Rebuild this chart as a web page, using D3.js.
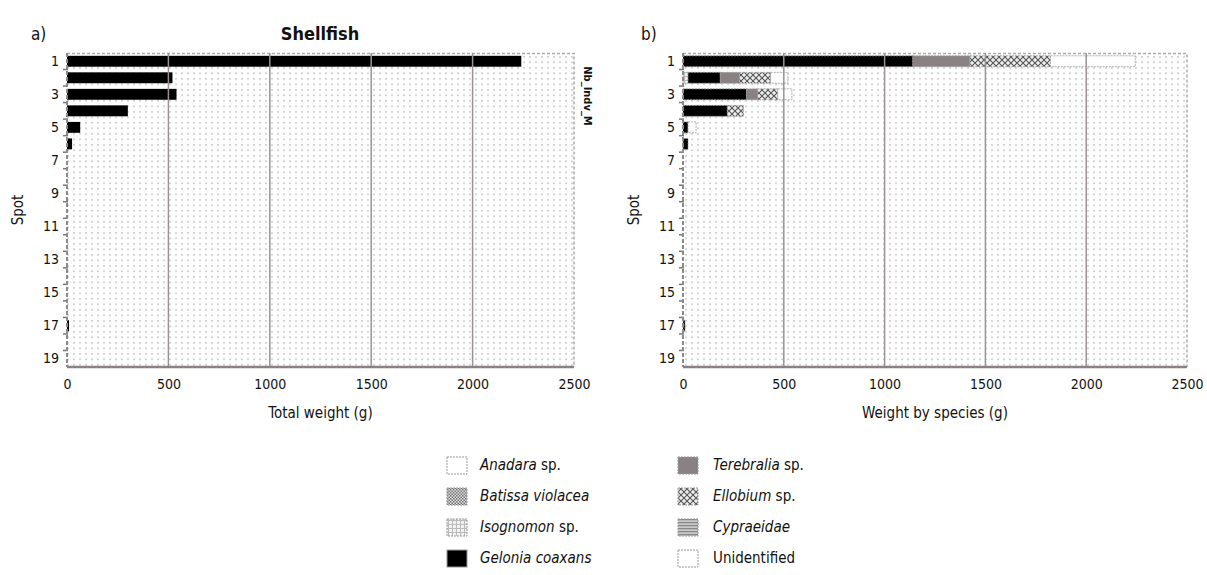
<!DOCTYPE html>
<meta charset="utf-8">
<script src="https://d3js.org/d3.v7.min.js"></script>
<style>
  body { margin: 0; background: #fff; }
  text { font-family: "DejaVu Sans", "Liberation Sans", sans-serif; font-stretch: condensed; fill: #111; }
</style>
<div id="chart"></div>
<script>

// spots (rows) and tick labels
var spots = [1,2,3,4,5,6,7,8,9,10,11,12,13,14,15,16,17,18,19];
var spotLabels = [1,3,5,7,9,11,13,15,17,19];
var weightTicks = [0, 500, 1000, 1500, 2000, 2500];

// a) total shellfish weight per spot (g)
var totalWeight = [2240, 520, 540, 300, 65, 25, 0, 0, 0, 0, 0, 0, 0, 0, 0, 0, 10, 0, 0];

// b) weight by species per spot (g)
var species = ["Anadara sp.", "Batissa violacea", "Isognomon sp.", "Gelonia coaxans",
               "Terebralia sp.", "Ellobium sp.", "Cypraeidae", "Unidentified"];
var anadara      = [0,   0,   0,   0,   0,  0, 0,0,0,0,0,0,0,0,0,0, 0, 0,0];
var batissa      = [0,   0,   0,   0,   0,  0, 0,0,0,0,0,0,0,0,0,0, 0, 0,0];
var isognomon    = [0,   25,  0,   0,   0,  0, 0,0,0,0,0,0,0,0,0,0, 0, 0,0];
var gelonia      = [1140,160, 315, 220, 25, 25,0,0,0,0,0,0,0,0,0,0, 10,0,0];
var terebralia   = [283, 95,  55,  0,   0,  0, 0,0,0,0,0,0,0,0,0,0, 0, 0,0];
var ellobium     = [400, 155, 100, 80,  0,  0, 0,0,0,0,0,0,0,0,0,0, 0, 0,0];
var cypraeidae   = [0,   0,   0,   0,   0,  0, 0,0,0,0,0,0,0,0,0,0, 0, 0,0];
var unidentified = [420, 85,  70,  0,   40, 0, 0,0,0,0,0,0,0,0,0,0, 0, 0,0];
var seriesArrays = [anadara, batissa, isognomon, gelonia, terebralia, ellobium, cypraeidae, unidentified];

var W = 1207, H = 575;
var svg = d3.select("#chart").append("svg")
    .attr("width", W).attr("height", H);

// ---- patterns
var defs = svg.append("defs");

var bg = defs.append("pattern").attr("id", "bgdots")
    .attr("patternUnits", "userSpaceOnUse").attr("width", 6).attr("height", 5.5);
bg.append("rect").attr("width", 6).attr("height", 5.5).attr("fill", "#fff");
bg.append("rect").attr("x", 1).attr("y", 1).attr("width", 2).attr("height", 1.6).attr("fill", "#cfcfcf");

var p = defs.append("pattern").attr("id", "p-batissa")
    .attr("patternUnits", "userSpaceOnUse").attr("width", 3).attr("height", 3);
p.append("rect").attr("width", 3).attr("height", 3).attr("fill", "#ddd");
p.append("rect").attr("width", 1.5).attr("height", 1.5).attr("fill", "#777");
p.append("rect").attr("x", 1.5).attr("y", 1.5).attr("width", 1.5).attr("height", 1.5).attr("fill", "#777");

p = defs.append("pattern").attr("id", "p-isognomon")
    .attr("patternUnits", "userSpaceOnUse").attr("width", 4).attr("height", 4);
p.append("rect").attr("width", 4).attr("height", 4).attr("fill", "#f2f2f2");
p.append("path").attr("d", "M0,0.5H4M0.5,0V4").attr("stroke", "#bbb").attr("stroke-width", 1);

p = defs.append("pattern").attr("id", "p-ellobium")
    .attr("patternUnits", "userSpaceOnUse").attr("width", 6).attr("height", 6);
p.append("rect").attr("width", 6).attr("height", 6).attr("fill", "#eee");
p.append("path").attr("d", "M0,0L6,6M6,0L0,6").attr("stroke", "#555").attr("stroke-width", 1.1);

p = defs.append("pattern").attr("id", "p-cypraeidae")
    .attr("patternUnits", "userSpaceOnUse").attr("width", 3).attr("height", 3);
p.append("rect").attr("width", 3).attr("height", 3).attr("fill", "#c8c8c8");
p.append("rect").attr("width", 3).attr("height", 1.2).attr("fill", "#888");

var fills = ["#ffffff", "url(#p-batissa)", "url(#p-isognomon)", "#000000",
             "#8a8282", "url(#p-ellobium)", "url(#p-cypraeidae)", "#ffffff"];

// ---- one panel
function panel(x0, x1, letter, xTitle) {
  var x = d3.scaleLinear().domain([0, 2500]).range([x0, x1]);
  var y = d3.scaleBand().domain(spots).range([53, 367]).paddingInner(0.34).paddingOuter(0.17);
  var g = svg.append("g");

  // plot background
  g.append("rect").attr("x", x0).attr("y", 53).attr("width", x1 - x0).attr("height", 314)
      .attr("fill", "url(#bgdots)");
  // top and right borders
  g.append("path").attr("d", "M" + x0 + ",53.5H" + x1 + "V367")
      .attr("fill", "none").attr("stroke", "#aaa").attr("stroke-width", 1.5)
      .attr("stroke-dasharray", "3,2");

  // letter
  g.append("text").attr("x", letter === "a)" ? 31 : 641).attr("y", 40)
      .style("font-size", "17px").text(letter);

  // y axis: labels at centres, ticks at row boundaries
  var yAxis = g.append("g").attr("transform", "translate(" + (x0 - 8) + ",0)")
      .call(d3.axisLeft(y).tickValues(spotLabels).tickSize(0).tickPadding(0));
  yAxis.select(".domain").remove();
  yAxis.selectAll("text").style("font-size", "14px").attr("fill", "#111");

  var bounds = spots.map(function(s) { return y(s) - y.step() * y.paddingInner() / 2; });
  g.selectAll(".ytick").data(bounds.slice(1)).enter().append("line")
      .attr("x1", x0 - 4).attr("x2", x0 + 1)
      .attr("y1", function(d) { return d; }).attr("y2", function(d) { return d; })
      .attr("stroke", "#777").attr("stroke-width", 1.5);

  // y title
  g.append("text")
      .attr("transform", "translate(" + (x0 - 44) + ",210)rotate(-90)")
      .attr("text-anchor", "middle").style("font-size", "15px").text("Spot");

  // x axis
  var xAxis = g.append("g").attr("transform", "translate(0,367)")
      .call(d3.axisBottom(x).tickValues(weightTicks).tickFormat(d3.format("d"))
            .tickSize(0).tickPadding(12));
  xAxis.select(".domain").remove();
  xAxis.selectAll("text").style("font-size", "14px").attr("fill", "#111");

  g.append("text").attr("x", (x0 + x1) / 2).attr("y", 418)
      .attr("text-anchor", "middle").style("font-size", "15px").text(xTitle);

  return { g: g, x: x, y: y, x0: x0, x1: x1 };
}

function frame(pn) {
  var grid = pn.g.append("g");
  grid.selectAll("line").data(weightTicks.slice(1, 5)).enter().append("line")
      .attr("x1", function(d) { return pn.x(d); }).attr("x2", function(d) { return pn.x(d); })
      .attr("y1", 53).attr("y2", 367)
      .attr("stroke", "#9a9292").attr("stroke-width", 1.5);
  // axis lines
  pn.g.append("line").attr("x1", pn.x0).attr("x2", pn.x0).attr("y1", 53).attr("y2", 367)
      .attr("stroke", "#8a8a8a").attr("stroke-width", 2).attr("stroke-dasharray", "4,2");
  pn.g.append("line").attr("x1", pn.x0).attr("x2", pn.x1).attr("y1", 367).attr("y2", 367)
      .attr("stroke", "#8a8282").attr("stroke-width", 2.5);
  return grid;
}

// ---- a) total weight
var pa = panel(67, 574, "a)", "Total weight (g)");
pa.g.selectAll(".bar").data(spots).enter().append("rect")
    .attr("x", pa.x(0))
    .attr("y", function(s) { return pa.y(s); })
    .attr("width", function(s, i) { return pa.x(totalWeight[i]) - pa.x(0); })
    .attr("height", pa.y.bandwidth())
    .attr("fill", "#000");
frame(pa);

svg.append("text").attr("x", 320).attr("y", 40).attr("text-anchor", "middle")
    .style("font-size", "18px").style("font-weight", "bold").text("Shellfish");

svg.append("text").attr("transform", "translate(584,96)rotate(90)")
    .attr("text-anchor", "middle").style("font-size", "11px").style("font-weight", "bold")
    .text("Nb_Indv_M");

// ---- b) weight by species
var pb = panel(683, 1187, "b)", "Weight by species (g)");
var rows = spots.map(function(s, i) {
  var r = { spot: s };
  species.forEach(function(sp, k) { r[sp] = seriesArrays[k][i]; });
  return r;
});
var stacked = d3.stack().keys(species)(rows);
pb.g.selectAll(".layer").data(stacked).enter().append("g")
    .attr("fill", function(d, k) { return fills[k]; })
  .selectAll("rect").data(function(d) { return d.filter(function(v) { return v[1] > v[0]; }); })
  .enter().append("rect")
    .attr("x", function(v) { return pb.x(v[0]); })
    .attr("y", function(v) { return pb.y(v.data.spot); })
    .attr("width", function(v) { return pb.x(v[1]) - pb.x(v[0]); })
    .attr("height", pb.y.bandwidth())
    .attr("stroke", "#999").attr("stroke-width", 0.8).attr("stroke-dasharray", "2,1");
frame(pb);

// ---- legend
var legCols = [[447, 480], [678, 713]];
var leg = svg.append("g");
species.forEach(function(sp, k) {
  var col = legCols[Math.floor(k / 4)];
  var yy = 457 + (k % 4) * 31;
  leg.append("rect").attr("x", col[0]).attr("y", yy).attr("width", 20).attr("height", 17)
      .attr("fill", fills[k]).attr("stroke", "#999").attr("stroke-width", 1)
      .attr("stroke-dasharray", k === 3 ? null : "2,1");
  var t = leg.append("text").attr("x", col[1]).attr("y", yy + 13).style("font-size", "15px");
  var m = sp.match(/^(.*?)( sp\.)$/);
  if (sp === "Unidentified") {
    t.text(sp);
  } else if (m) {
    t.append("tspan").style("font-style", "italic").text(m[1]);
    t.append("tspan").text(m[2]);
  } else {
    t.append("tspan").style("font-style", "italic").text(sp);
  }
});

</script>
